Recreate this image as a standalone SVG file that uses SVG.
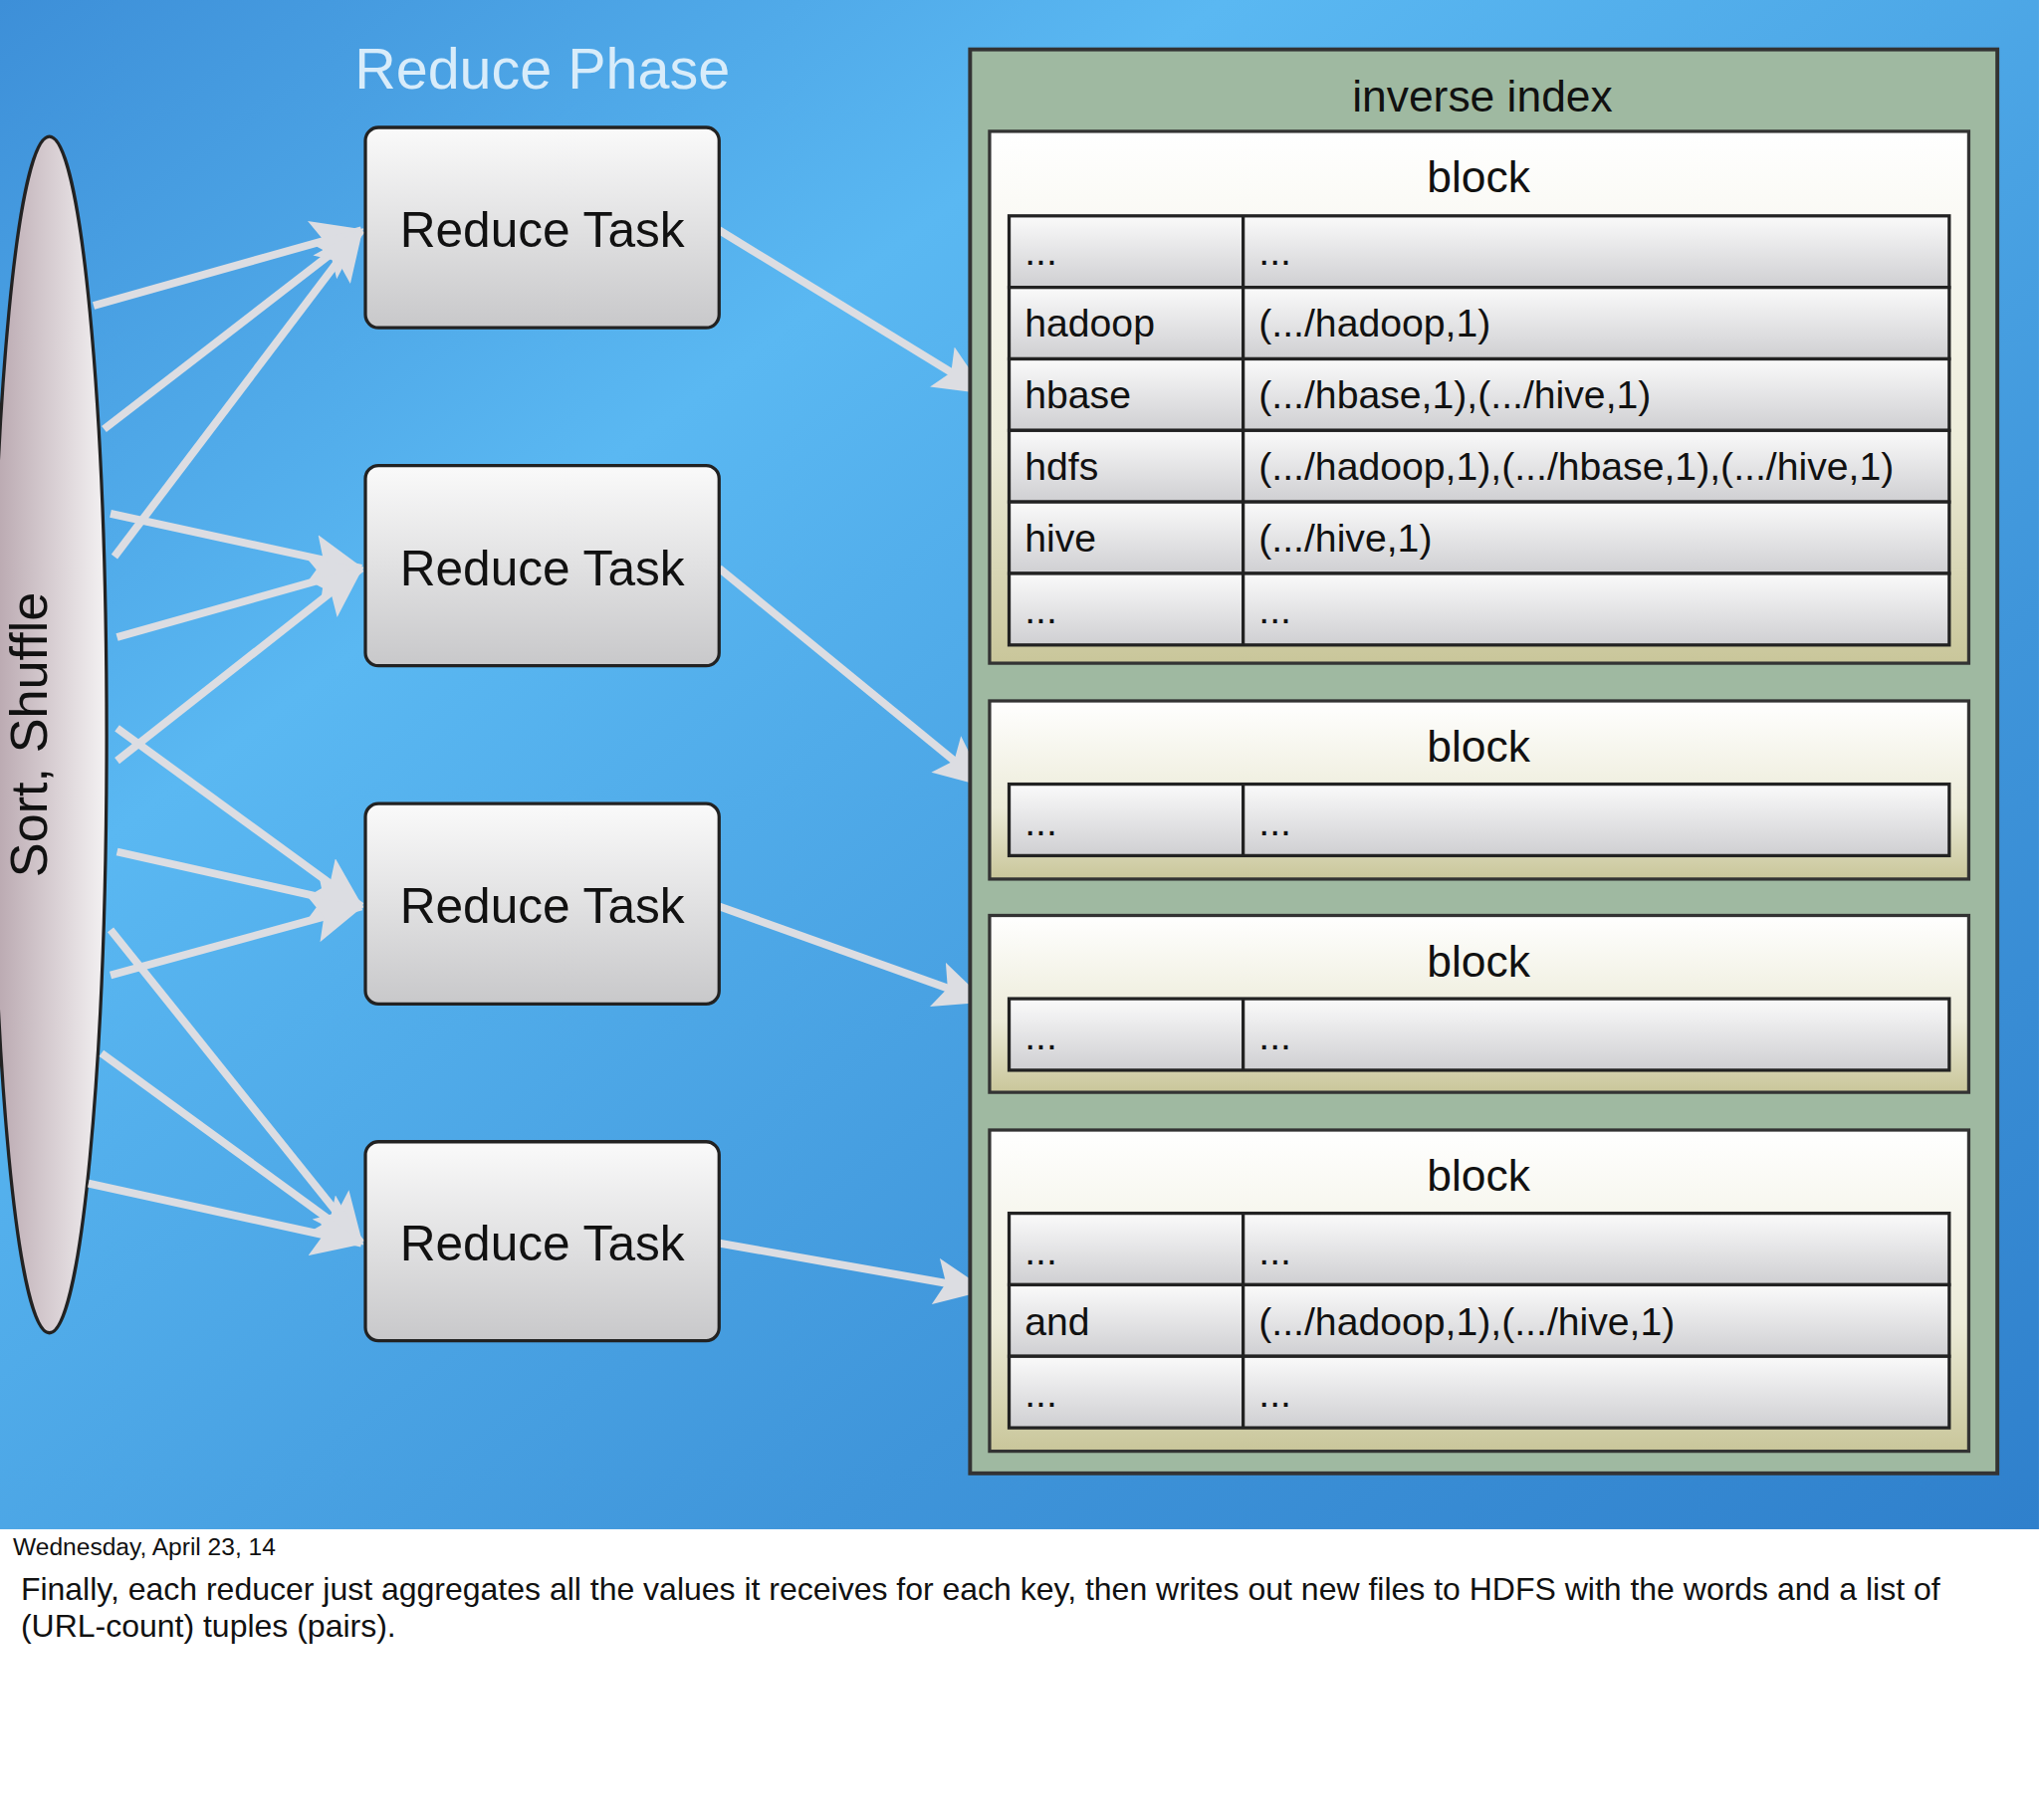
<svg xmlns="http://www.w3.org/2000/svg" width="2048" height="1828" viewBox="0 0 2048 1828">
<defs>
<linearGradient id="bg" x1="0" y1="0" x2="1" y2="1"><stop offset="0" stop-color="#3d8fd8"/><stop offset="0.3" stop-color="#5ab8f2"/><stop offset="0.7" stop-color="#3f95da"/><stop offset="1" stop-color="#2f80cc"/></linearGradient>
<linearGradient id="ell" x1="0" y1="0" x2="1" y2="0"><stop offset="0" stop-color="#b8a6ae"/><stop offset="1" stop-color="#f4f2f3"/></linearGradient>
<linearGradient id="task" x1="0" y1="0" x2="0" y2="1"><stop offset="0" stop-color="#fafafa"/><stop offset="1" stop-color="#c8c8ca"/></linearGradient>
<linearGradient id="blk" x1="0" y1="0" x2="0" y2="1"><stop offset="0" stop-color="#ffffff"/><stop offset="0.6" stop-color="#ecebd8"/><stop offset="1" stop-color="#c9c69a"/></linearGradient>
<linearGradient id="row" x1="0" y1="0" x2="0" y2="1"><stop offset="0" stop-color="#fafafa"/><stop offset="1" stop-color="#cfcfd2"/></linearGradient>
<marker id="ah" markerUnits="userSpaceOnUse" markerWidth="40" markerHeight="36" refX="38" refY="18" orient="auto"><path d="M0,0 L40,18 L0,36 L8,18 Z" fill="#dcdde2"/></marker>
<style>
.t{font-family:"Helvetica","Liberation Sans",Arial,sans-serif;fill:#111}
.task{fill:url(#task);stroke:#222;stroke-width:2.5}
.blk{fill:url(#blk);stroke:#333;stroke-width:2.5}
.row{fill:url(#row);stroke:#222;stroke-width:2.5}
.a{stroke:#dcdde2;stroke-width:6;fill:none;marker-end:url(#ah)}
.c{font-size:30px}
</style>
</defs>
<g transform="scale(1.3061)">
<rect x="0" y="0" width="1568" height="1176" fill="url(#bg)"/>
<text x="417" y="68" class="t" font-size="44" text-anchor="middle" style="fill:#d8ecfa">Reduce Phase</text>
<g id="shuffle"><ellipse cx="38" cy="565" rx="44" ry="460" fill="url(#ell)" stroke="#222" stroke-width="2.5"/>
<text class="t" font-size="40" text-anchor="middle" transform="translate(36,565) rotate(-90)">Sort, Shuffle</text></g>
<g id="connectors">
<line class="a" x1="72" y1="235" x2="278" y2="177"/><line class="a" x1="80" y1="330" x2="278" y2="177"/><line class="a" x1="88" y1="428" x2="278" y2="177"/>
<line class="a" x1="85" y1="395" x2="278" y2="437"/><line class="a" x1="90" y1="490" x2="278" y2="437"/><line class="a" x1="90" y1="585" x2="278" y2="437"/>
<line class="a" x1="90" y1="560" x2="278" y2="697"/><line class="a" x1="90" y1="655" x2="278" y2="697"/><line class="a" x1="85" y1="750" x2="278" y2="697"/>
<line class="a" x1="85" y1="715" x2="278" y2="956"/><line class="a" x1="78" y1="810" x2="278" y2="956"/><line class="a" x1="68" y1="910" x2="278" y2="956"/>
<line class="a" x1="553" y1="177" x2="757" y2="302"/><line class="a" x1="553" y1="437" x2="757" y2="604"/><line class="a" x1="553" y1="697" x2="757" y2="770"/><line class="a" x1="553" y1="956" x2="757" y2="992"/>
</g>
<g id="t1"><rect class="task" x="281" y="98" width="272" height="154" rx="10"/><text class="t" x="417" y="190" font-size="38" text-anchor="middle">Reduce Task</text></g>
<g id="t2"><rect class="task" x="281" y="358" width="272" height="154" rx="10"/><text class="t" x="417" y="450" font-size="38" text-anchor="middle">Reduce Task</text></g>
<g id="t3"><rect class="task" x="281" y="618" width="272" height="154" rx="10"/><text class="t" x="417" y="710" font-size="38" text-anchor="middle">Reduce Task</text></g>
<g id="t4"><rect class="task" x="281" y="878" width="272" height="153" rx="10"/><text class="t" x="417" y="969" font-size="38" text-anchor="middle">Reduce Task</text></g>
<g id="index">
<rect x="746" y="38" width="790" height="1095" fill="#9fb9a1" stroke="#333" stroke-width="3"/>
<text class="t" x="1140" y="86" font-size="34" text-anchor="middle">inverse index</text>
<rect class="blk" x="761" y="101" width="753" height="409"/><text class="t" x="1137" y="148" font-size="34" text-anchor="middle">block</text>
<rect class="row" x="776" y="166" width="723" height="55"/><rect class="row" x="776" y="221" width="723" height="55"/><rect class="row" x="776" y="276" width="723" height="55"/><rect class="row" x="776" y="331" width="723" height="55"/><rect class="row" x="776" y="386" width="723" height="55"/><rect class="row" x="776" y="441" width="723" height="55"/>
<line x1="956" y1="166" x2="956" y2="496" stroke="#222" stroke-width="2.5"/>
<g class="t c"><text x="788" y="204">...</text><text x="968" y="204">...</text>
<text x="788" y="259">hadoop</text><text x="968" y="259">(.../hadoop,1)</text>
<text x="788" y="314">hbase</text><text x="968" y="314">(.../hbase,1),(.../hive,1)</text>
<text x="788" y="369">hdfs</text><text x="968" y="369">(.../hadoop,1),(.../hbase,1),(.../hive,1)</text>
<text x="788" y="424">hive</text><text x="968" y="424">(.../hive,1)</text>
<text x="788" y="479">...</text><text x="968" y="479">...</text></g>
<rect class="blk" x="761" y="539" width="753" height="137"/><text class="t" x="1137" y="586" font-size="34" text-anchor="middle">block</text>
<rect class="row" x="776" y="603" width="723" height="55"/><line x1="956" y1="603" x2="956" y2="658" stroke="#222" stroke-width="2.5"/>
<g class="t c"><text x="788" y="642">...</text><text x="968" y="642">...</text></g>
<rect class="blk" x="761" y="704" width="753" height="136"/><text class="t" x="1137" y="751" font-size="34" text-anchor="middle">block</text>
<rect class="row" x="776" y="768" width="723" height="55"/><line x1="956" y1="768" x2="956" y2="823" stroke="#222" stroke-width="2.5"/>
<g class="t c"><text x="788" y="807">...</text><text x="968" y="807">...</text></g>
<rect class="blk" x="761" y="869" width="753" height="247"/><text class="t" x="1137" y="916" font-size="34" text-anchor="middle">block</text>
<rect class="row" x="776" y="933" width="723" height="55"/><rect class="row" x="776" y="988" width="723" height="55"/><rect class="row" x="776" y="1043" width="723" height="55"/>
<line x1="956" y1="933" x2="956" y2="1098" stroke="#222" stroke-width="2.5"/>
<g class="t c"><text x="788" y="972">...</text><text x="968" y="972">...</text>
<text x="788" y="1027">and</text><text x="968" y="1027">(.../hadoop,1),(.../hive,1)</text>
<text x="788" y="1082">...</text><text x="968" y="1082">...</text></g>
</g>
<text class="t" x="10" y="1196" font-size="18.8">Wednesday, April 23, 14</text>
<text class="t" x="16" y="1230" font-size="24.5">Finally, each reducer just aggregates all the values it receives for each key, then writes out new files to HDFS with the words and a list of</text>
<text class="t" x="16" y="1259" font-size="24.5">(URL-count) tuples (pairs).</text>
</g>
</svg>
